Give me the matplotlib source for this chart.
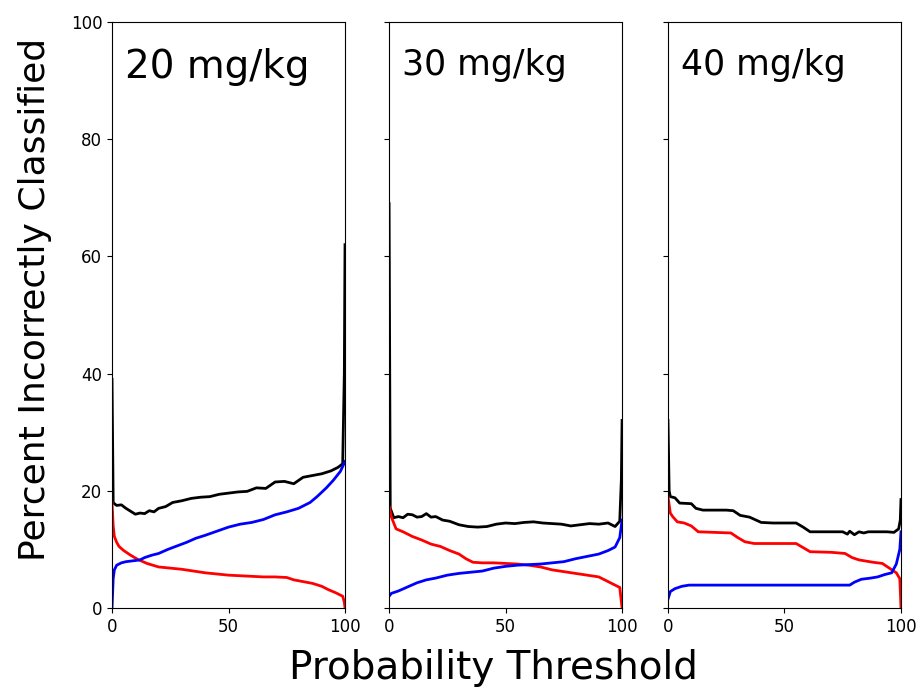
import matplotlib
matplotlib.use("Agg")
import matplotlib.pyplot as plt

# Values (threshold %, percent misclassified)
doses = ["20 mg/kg", "30 mg/kg", "40 mg/kg"]

# 20 mg/kg
total_x_20 = [0, 0.5, 1, 2, 4, 6, 8, 10, 12, 14, 16, 18, 20, 23, 26, 30, 34, 38, 42, 46, 50,
              54, 58, 62, 66, 70, 74, 78, 82, 86, 90, 94, 97, 99, 99.7, 100]
total_y_20 = [39, 18, 17.8, 17.5, 17.6, 17.0, 16.5, 16.0, 16.2, 16.1, 16.6, 16.4, 17.0, 17.3, 18.0,
              18.3, 18.7, 18.9, 19.0, 19.4, 19.6, 19.8, 19.9, 20.5, 20.4, 21.5, 21.6, 21.2, 22.3,
              22.6, 22.9, 23.4, 24.0, 24.6, 40, 62]
fn_x_20 = [0, 0.5, 1, 2, 4, 6, 8, 10, 12, 14, 17, 20, 24, 28, 32, 36, 40, 45, 50, 55, 60, 65,
           70, 75, 80, 85, 88, 92, 95, 98, 100]
fn_y_20 = [0, 5, 6.5, 7.3, 7.7, 7.9, 8.0, 8.1, 8.2, 8.6, 9.0, 9.3, 10.0, 10.6, 11.2, 11.9, 12.4,
           13.1, 13.8, 14.3, 14.6, 15.1, 15.9, 16.4, 17.0, 18.0, 19.0, 20.5, 21.8, 23.3, 25]
fp_x_20 = [0, 0.5, 1, 2, 3, 5, 8, 11, 15, 20, 25, 30, 35, 40, 45, 50, 55, 60, 65, 70, 75, 78,
           82, 86, 90, 93, 96, 99, 99.7, 100]
fp_y_20 = [18, 14, 12.2, 11.2, 10.5, 9.8, 9.0, 8.3, 7.6, 7.0, 6.8, 6.6, 6.3, 6.0, 5.8, 5.6, 5.5,
           5.4, 5.3, 5.3, 5.2, 4.8, 4.5, 4.2, 3.7, 3.1, 2.6, 2.0, 1.0, 0]

# 30 mg/kg
total_x_30 = [0, 0.5, 1, 2, 4, 6, 8, 10, 12, 14, 16, 18, 20, 23, 26, 30, 34, 38, 42, 46, 50,
              54, 58, 62, 66, 70, 74, 78, 82, 86, 90, 94, 97, 99, 99.7, 100]
total_y_30 = [69, 17, 16.5, 15.4, 15.6, 15.4, 16.0, 15.9, 15.5, 15.6, 16.1, 15.5, 15.6, 15.0,
              14.8, 14.2, 13.9, 13.8, 13.9, 14.3, 14.5, 14.4, 14.6, 14.7, 14.5, 14.4, 14.3, 14.0,
              14.2, 14.4, 14.3, 14.5, 13.9, 14.8, 22, 32]
fn_x_30 = [0, 1, 4, 8, 12, 16, 20, 25, 30, 35, 40, 45, 50, 55, 60, 65, 70, 75, 80, 85, 90, 94,
           97, 99, 100]
fn_y_30 = [2.0, 2.5, 2.9, 3.6, 4.3, 4.8, 5.1, 5.6, 5.9, 6.1, 6.3, 6.8, 7.1, 7.3, 7.4, 7.5, 7.7,
           7.9, 8.4, 8.8, 9.2, 9.8, 10.4, 12.0, 15]
fp_x_30 = [0, 1, 3, 6, 10, 14, 18, 22, 26, 30, 33, 36, 40, 45, 50, 55, 60, 65, 70, 75, 80, 85,
           90, 94, 97, 99, 100]
fp_y_30 = [17.3, 15.5, 13.5, 13.0, 12.2, 11.6, 10.9, 10.5, 9.8, 9.2, 8.4, 7.8, 7.7, 7.7, 7.6,
           7.5, 7.3, 7.0, 6.5, 6.2, 5.9, 5.6, 5.3, 4.5, 3.9, 3.5, 0]

# 40 mg/kg
total_x_40 = [0, 0.5, 1, 3, 5, 10, 12, 15, 20, 25, 28, 31, 35, 40, 45, 50, 55, 58, 61, 65, 70,
              75, 77, 78, 80, 82, 84, 86, 90, 94, 97, 99, 99.7, 100]
total_y_40 = [32, 20, 19.0, 18.8, 17.9, 17.8, 17.0, 16.7, 16.7, 16.7, 16.6, 15.8, 15.5, 14.6,
              14.5, 14.5, 14.5, 13.8, 13.0, 13.0, 13.0, 13.0, 12.6, 13.1, 12.5, 13.0, 12.8, 13.0,
              13.0, 13.0, 12.9, 13.5, 15, 18.5]
fn_x_40 = [0, 1, 3, 6, 9, 20, 40, 60, 78, 80, 83, 87, 90, 93, 96, 98, 99.5, 100]
fn_y_40 = [1.5, 2.8, 3.3, 3.7, 3.9, 3.9, 3.9, 3.9, 3.9, 4.4, 4.9, 5.1, 5.3, 5.7, 6.0, 7.5, 10, 13]
fp_x_40 = [0, 1, 2, 4, 7, 10, 13, 20, 27, 30, 33, 37, 45, 55, 58, 61, 70, 76, 79, 82, 88, 92,
           95, 98, 99.5, 100]
fp_y_40 = [19, 16.2, 15.6, 14.7, 14.5, 14.0, 13.0, 12.9, 12.8, 12.0, 11.3, 11.0, 11.0, 11.0,
           10.3, 9.6, 9.5, 9.3, 8.6, 8.2, 7.8, 7.6, 6.8, 6.0, 5.0, 0]

panels = [
    (total_x_20, total_y_20, fn_x_20, fn_y_20, fp_x_20, fp_y_20),
    (total_x_30, total_y_30, fn_x_30, fn_y_30, fp_x_30, fp_y_30),
    (total_x_40, total_y_40, fn_x_40, fn_y_40, fp_x_40, fp_y_40),
]
label_sizes = [28, 25, 25]

fig = plt.figure(figsize=(9.22, 6.89), dpi=100)
lefts = [0.1215, 0.422, 0.7245]

for i, (tx, ty, bx, by, rx, ry) in enumerate(panels):
    ax = fig.add_axes([lefts[i], 0.1176, 0.2527, 0.8505])
    ax.plot(tx, ty, color="black", lw=2)
    ax.plot(rx, ry, color="red", lw=2)
    ax.plot(bx, by, color="blue", lw=2)
    ax.set_xlim(0, 100)
    ax.set_ylim(0, 100)
    ax.set_xticks([0, 50, 100])
    ax.set_yticks([0, 20, 40, 60, 80, 100])
    ax.tick_params(labelsize=12)
    if i > 0:
        ax.set_yticklabels([])
    ax.text(0.055, 0.955, doses[i], transform=ax.transAxes, fontsize=label_sizes[i],
            ha="left", va="top")

fig.text(0.535, 0.03, "Probability Threshold", fontsize=28, ha="center", va="center")
fig.text(0.038, 0.565, "Percent Incorrectly Classified", fontsize=26, rotation=90,
         ha="center", va="center")

fig.savefig("out.png", dpi=100)
